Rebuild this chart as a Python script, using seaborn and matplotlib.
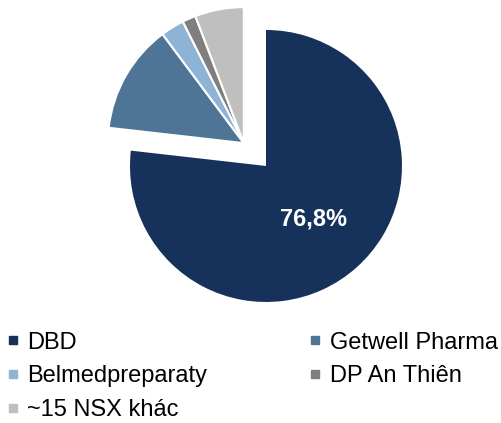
import matplotlib
matplotlib.use("Agg")
import matplotlib.pyplot as plt
from matplotlib.lines import Line2D
import seaborn as sns

# Market share by manufacturer (%)
labels = ["DBD", "Getwell Pharma", "Belmedpreparaty", "DP An Thiên", "~15 NSX khác"]
shares = [76.8, 13.0, 2.8, 1.6, 5.8]
colors = ["#17325a", "#4e7596", "#8db4d6", "#7f7f7f", "#bfbfbf"]

sns.set_style("white")
plt.rcParams["font.family"] = ["Liberation Sans", "DejaVu Sans"]
plt.rcParams["text.color"] = "black"

fig = plt.figure(figsize=(5.02, 4.23), dpi=100)
ax = fig.add_axes([0.1912, 0.2057, 0.6773, 0.8038])

def pct_label(p):
    return ("%.1f%%" % p).replace(".", ",") if p > 50 else ""

# main slice (DBD) in place, rest invisible
main_colors = [colors[0]] + ["none"] * (len(shares) - 1)
wedges, _, autotexts = ax.pie(shares, colors=main_colors, startangle=90, counterclock=False,
                              autopct=pct_label, pctdistance=0.52,
                              wedgeprops=dict(linewidth=0))
for t in autotexts:
    t.set_color("white")
    t.set_fontsize(17)
    t.set_fontweight("bold")

# the small slices, pulled out together towards upper left
rest_colors = ["none"] + colors[1:]
ax.pie(shares, colors=rest_colors, startangle=90, counterclock=False, center=(-0.163, 0.168),
       wedgeprops=dict(edgecolor="white", linewidth=1.5))
wedges2 = ax.patches[len(shares):]
wedges2[0].set_edgecolor("none")

ax.set_xlim(-1.25, 1.25)
ax.set_ylim(-1.25, 1.25)
ax.set_aspect("equal")
ax.axis("off")

# legend, row-wise order
order = [0, 2, 4, 1, 3]
handles = [Line2D([], [], marker="s", linestyle="none", markersize=5.5,
                  markerfacecolor=colors[i], markeredgecolor=colors[i]) for i in order]
fig.legend(handles, [labels[i] for i in order], ncol=2, loc="upper left",
           bbox_to_anchor=(0.012, 0.216), frameon=False, fontsize=17,
           handlelength=0.55, handletextpad=0.35, columnspacing=4.3,
           labelspacing=0.5, borderpad=0, borderaxespad=0, labelcolor="black")

plt.savefig("out.png", dpi=100)
